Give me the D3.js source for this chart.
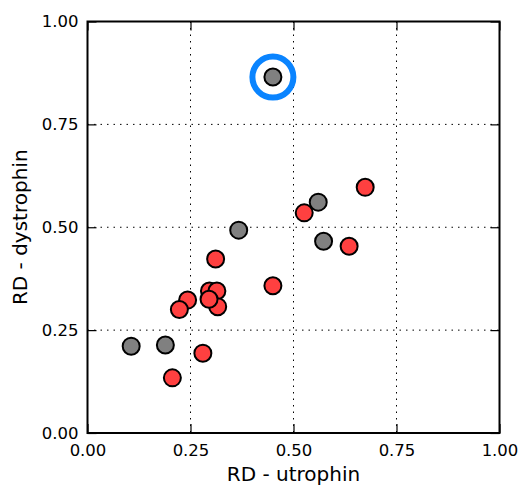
<!DOCTYPE html>
<html>
<head>
<meta charset="utf-8">
<script src="https://cdn.jsdelivr.net/npm/d3@7"></script>
<style>
  html, body { margin: 0; padding: 0; background: #fff; }
  svg { display: block; font-family: "DejaVu Sans", sans-serif; }
</style>
</head>
<body>
<svg id="chart" width="518" height="486"></svg>
<script>
// ---- data ----
const grayX = [0.450, 0.560, 0.573, 0.367, 0.106, 0.189];
const grayY = [0.865, 0.561, 0.466, 0.493, 0.211, 0.214];
const redX = [0.674, 0.526, 0.635, 0.450, 0.311, 0.243, 0.223, 0.296, 0.314, 0.316, 0.295, 0.280, 0.206];
const redY = [0.597, 0.535, 0.454, 0.358, 0.423, 0.323, 0.300, 0.345, 0.345, 0.307, 0.325, 0.194, 0.134];
const highlightIndex = 0; // gray point circled in blue
const tickValues = [0, 0.25, 0.5, 0.75, 1.0];
const tickLabels = ["0.00", "0.25", "0.50", "0.75", "1.00"];
const xLabel = "RD - utrophin";
const yLabel = "RD - dystrophin";

// ---- layout ----
const pLeft = 87.5, pRight = 499.5, pTop = 21.5, pBottom = 433;
const svg = d3.select("#chart");
const x = d3.scaleLinear().domain([0, 1]).range([pLeft, pRight]);
const y = d3.scaleLinear().domain([0, 1]).range([pBottom, pTop]);

// grid
const grid = svg.append("g");
grid.selectAll("line.gx").data(tickValues.slice(1, -1)).join("line")
  .attr("x1", d => x(d)).attr("x2", d => x(d)).attr("y1", pTop).attr("y2", pBottom)
  .attr("stroke", "#000").attr("stroke-width", 1).attr("stroke-dasharray", "1.5,5");
grid.selectAll("line.gy").data(tickValues.slice(1, -1)).join("line")
  .attr("y1", d => y(d)).attr("y2", d => y(d)).attr("x1", pLeft).attr("x2", pRight)
  .attr("stroke", "#000").attr("stroke-width", 1).attr("stroke-dasharray", "1.5,5");

// axes (ticks inward)
const fmt = (d) => tickLabels[tickValues.indexOf(d)];
const tk = 9;
function styleAxis(g) {
  g.select(".domain").remove();
  g.selectAll(".tick line").attr("stroke", "#000").attr("stroke-width", 1.2);
  g.selectAll(".tick text").attr("font-size", "16.5px").attr("fill", "#000")
    .attr("font-family", "DejaVu Sans, sans-serif");
}
svg.append("g").attr("transform", `translate(0,${pBottom})`)
  .call(d3.axisBottom(x).tickValues(tickValues).tickFormat(fmt).tickSizeInner(-tk).tickSizeOuter(0).tickPadding(11))
  .call(styleAxis);
svg.append("g").attr("transform", `translate(${pLeft},0)`)
  .call(d3.axisLeft(y).tickValues(tickValues).tickFormat(fmt).tickSizeInner(-tk).tickSizeOuter(0).tickPadding(9))
  .call(styleAxis);
svg.append("g").attr("transform", `translate(0,${pTop})`)
  .call(d3.axisTop(x).tickValues(tickValues).tickFormat("").tickSizeInner(-tk).tickSizeOuter(0))
  .call(styleAxis);
svg.append("g").attr("transform", `translate(${pRight},0)`)
  .call(d3.axisRight(y).tickValues(tickValues).tickFormat("").tickSizeInner(-tk).tickSizeOuter(0))
  .call(styleAxis);

// frame
svg.append("rect").attr("x", pLeft).attr("y", pTop).attr("width", pRight - pLeft).attr("height", pBottom - pTop)
  .attr("fill", "none").attr("stroke", "#000").attr("stroke-width", 2);

// points
const gray = grayX.map((v, i) => ({ x: v, y: grayY[i] }));
const red = redX.map((v, i) => ({ x: v, y: redY[i] }));
const r = 8.5;
svg.append("g").selectAll("circle").data(gray).join("circle")
  .attr("cx", d => x(d.x)).attr("cy", d => y(d.y)).attr("r", r)
  .attr("fill", "#808080").attr("stroke", "#000").attr("stroke-width", 2);
svg.append("g").selectAll("circle").data(red).join("circle")
  .attr("cx", d => x(d.x)).attr("cy", d => y(d.y)).attr("r", r)
  .attr("fill", "#ff4040").attr("stroke", "#000").attr("stroke-width", 2);

// highlight ring
svg.append("circle")
  .attr("cx", x(gray[highlightIndex].x)).attr("cy", y(gray[highlightIndex].y)).attr("r", 20.5)
  .attr("fill", "none").attr("stroke", "#0a84ff").attr("stroke-width", 6);

// axis labels
svg.append("text").attr("x", (pLeft + pRight) / 2).attr("y", 480.5)
  .attr("text-anchor", "middle").attr("font-size", "20px").attr("fill", "#000").text(xLabel);
svg.append("text").attr("transform", `translate(27,${(pTop + pBottom) / 2}) rotate(-90)`)
  .attr("text-anchor", "middle").attr("font-size", "20px").attr("fill", "#000").text(yLabel);
</script>
</body>
</html>
